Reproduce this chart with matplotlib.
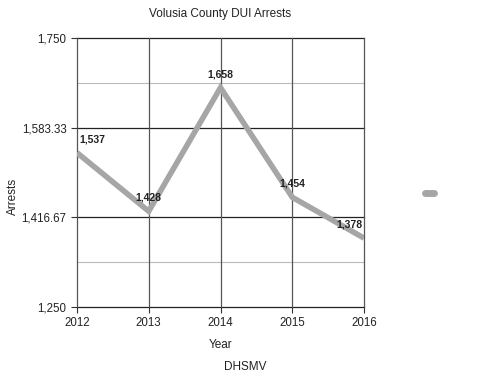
import matplotlib.pyplot as plt
from matplotlib.lines import Line2D

plt.rcParams['font.family'] = ['Liberation Sans', 'DejaVu Sans']

years = [2012, 2013, 2014, 2015, 2016]
arrests = [1537, 1428, 1658, 1454, 1378]
y_ticks = [1250, 1416.67, 1583.33, 1750]
y_tick_labels = ['1,250', '1,416.67', '1,583.33', '1,750']
minor_ticks = [1333.33, 1666.67]

fig = plt.figure(figsize=(4.9, 3.78), dpi=100)
ax = fig.add_axes([0.157, 0.188, 0.586, 0.711])

line_col = '#a6a6a6'
ax.plot(years, arrests, color=line_col, lw=4, solid_capstyle='butt',
        solid_joinstyle='miter', zorder=3)

for i, (x, y) in enumerate(zip(years, arrests)):
    if i == 0:
        ha, dx = 'left', 2
    elif i == len(years) - 1:
        ha, dx = 'right', -1
    else:
        ha, dx = 'center', 0
    ax.annotate(f'{y:,}', (x, y), xytext=(dx, 6), textcoords='offset points',
                ha=ha, va='bottom', fontsize=7.5, fontweight='bold',
                color='#222222', zorder=4)

ax.set_xlim(2012, 2016)
ax.set_ylim(1250, 1750)
ax.set_xticks(years)
ax.set_yticks(y_ticks)
ax.set_yticklabels(y_tick_labels)
ax.set_yticks(minor_ticks, minor=True)
ax.tick_params(axis='both', labelsize=8.3, length=4, color='#333333',
               labelcolor='#222222', width=0.8)
ax.tick_params(axis='y', which='minor', length=0)

for y in y_ticks:
    ax.axhline(y, color='#222222', lw=0.9, zorder=1, clip_on=False)
for y in minor_ticks:
    ax.axhline(y, color='#bbbbbb', lw=0.8, zorder=1)
for x in years:
    ax.axvline(x, color='#555555', lw=0.9, zorder=1, clip_on=False)

for s in ax.spines.values():
    s.set_visible(False)

ax.set_xlabel('Year', fontsize=8.5, color='#222222', labelpad=7)
ax.set_title('Volusia County DUI Arrests', fontsize=8.5, color='#222222', pad=15)
fig.text(0.026, 0.48, 'Arrests', fontsize=8.5, color='#222222',
         rotation=90, ha='center', va='center')
fig.text(0.5, 0.02, 'DHSMV', fontsize=8.5, color='#222222', ha='center')

handle = Line2D([], [], color=line_col, lw=5, solid_capstyle='round')
ax.legend([handle], [''], loc='center left', bbox_to_anchor=(1.17, 0.42),
          frameon=False, handlelength=0.6, handletextpad=0)

fig.savefig('out.png', dpi=100)
